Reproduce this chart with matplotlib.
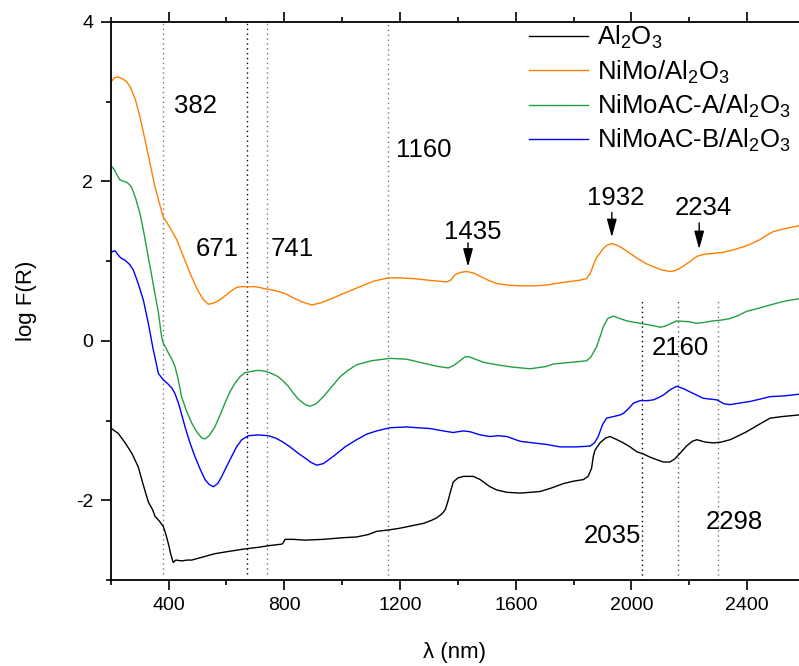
import numpy as np
import matplotlib
matplotlib.use("Agg")
import matplotlib.pyplot as plt
from matplotlib.ticker import MultipleLocator

plt.rcParams['font.family'] = ['Liberation Sans', 'DejaVu Sans']
plt.rcParams['mathtext.fontset'] = 'custom'
plt.rcParams['mathtext.rm'] = 'Liberation Sans'
plt.rcParams['mathtext.it'] = 'Liberation Sans'
plt.rcParams['axes.unicode_minus'] = False

# DRS spectra, log F(R) vs wavelength (nm)
wl_al2o3 = [200, 210, 226, 250, 273, 295, 312, 330, 345, 353, 368, 382, 390, 399, 408, 416,
            425, 445, 465, 480, 520, 560, 610, 664, 710, 745, 791, 795, 803, 830, 872, 935,
            1000, 1050, 1090, 1119, 1165, 1200, 1240, 1281, 1310, 1327, 1345, 1356, 1365,
            1373, 1384, 1400, 1419, 1453, 1477, 1511, 1534, 1570, 1615, 1650, 1684, 1720,
            1765, 1800, 1834, 1850, 1862, 1868, 1874, 1891, 1910, 1926, 1950, 1972, 1995,
            2018, 2041, 2065, 2087, 2110, 2133, 2150, 2168, 2190, 2210, 2226, 2255, 2283,
            2310, 2341, 2370, 2398, 2440, 2479, 2520, 2577, 2600]
f_al2o3 = [-1.09, -1.12, -1.16, -1.28, -1.41, -1.58, -1.80, -2.02, -2.12, -2.20, -2.26, -2.33,
           -2.42, -2.54, -2.68, -2.78, -2.75, -2.76, -2.75, -2.75, -2.71, -2.67, -2.64, -2.61,
           -2.59, -2.57, -2.55, -2.54, -2.49, -2.49, -2.50, -2.49, -2.47, -2.46, -2.43, -2.39,
           -2.37, -2.35, -2.32, -2.29, -2.25, -2.22, -2.17, -2.12, -2.02, -1.91, -1.77, -1.72,
           -1.70, -1.70, -1.74, -1.83, -1.87, -1.90, -1.91, -1.90, -1.89, -1.85, -1.79, -1.76,
           -1.74, -1.70, -1.60, -1.45, -1.37, -1.28, -1.22, -1.20, -1.24, -1.28, -1.33, -1.39,
           -1.42, -1.46, -1.49, -1.52, -1.52, -1.48, -1.41, -1.32, -1.26, -1.24, -1.27, -1.28,
           -1.27, -1.24, -1.19, -1.14, -1.05, -0.97, -0.95, -0.93, -0.92]

wl_nimo = [200, 212, 225, 240, 255, 267, 285, 301, 315, 330, 353, 381, 405, 428, 450, 474, 500,
           520, 537, 552, 566, 583, 601, 618, 635, 650, 670, 700, 739, 770, 797, 815, 831, 860,
           895, 930, 970, 1015, 1062, 1110, 1160, 1200, 1250, 1300, 1361, 1375, 1390, 1410,
           1431, 1455, 1477, 1505, 1534, 1570, 1615, 1660, 1707, 1740, 1776, 1820, 1845, 1858,
           1868, 1880, 1891, 1903, 1915, 1932, 1950, 1970, 1990, 2018, 2050, 2076, 2105, 2133,
           2150, 2162, 2180, 2200, 2226, 2245, 2260, 2290, 2318, 2350, 2387, 2415, 2444, 2470,
           2490, 2520, 2560, 2600]
f_nimo = [3.24, 3.30, 3.31, 3.29, 3.25, 3.19, 3.03, 2.81, 2.58, 2.33, 1.93, 1.56, 1.42, 1.27,
          1.07, 0.85, 0.64, 0.52, 0.46, 0.47, 0.49, 0.53, 0.58, 0.63, 0.67, 0.68, 0.68, 0.68,
          0.65, 0.63, 0.60, 0.57, 0.54, 0.49, 0.45, 0.48, 0.54, 0.61, 0.68, 0.75, 0.79, 0.79,
          0.78, 0.76, 0.74, 0.76, 0.83, 0.86, 0.87, 0.85, 0.81, 0.76, 0.72, 0.70, 0.69, 0.69,
          0.70, 0.72, 0.74, 0.76, 0.78, 0.85, 0.95, 1.05, 1.10, 1.16, 1.20, 1.22, 1.20, 1.16,
          1.11, 1.04, 0.97, 0.93, 0.89, 0.87, 0.88, 0.90, 0.94, 0.99, 1.06, 1.08, 1.09, 1.10,
          1.11, 1.14, 1.18, 1.22, 1.27, 1.33, 1.37, 1.40, 1.43, 1.46]

wl_ac_a = [200, 206, 212, 222, 232, 245, 255, 265, 273, 287, 301, 315, 330, 345, 365, 376, 382,
           390, 399, 410, 422, 433, 445, 462, 480, 497, 515, 526, 540, 560, 577, 595, 612, 630,
           647, 664, 690, 710, 733, 757, 779, 795, 814, 830, 848, 872, 889, 910, 935, 963, 993,
           1020, 1050, 1100, 1165, 1223, 1281, 1330, 1367, 1385, 1400, 1425, 1440, 1460, 1490,
           1534, 1590, 1649, 1690, 1707, 1730, 1790, 1845, 1860, 1880, 1893, 1903, 1918, 1937,
           1960, 1984, 2030, 2060, 2076, 2100, 2120, 2156, 2200, 2225, 2248, 2280, 2310, 2341,
           2370, 2398, 2440, 2479, 2520, 2548, 2600]
f_ac_a = [2.15, 2.18, 2.15, 2.08, 2.02, 2.00, 1.99, 1.96, 1.92, 1.78, 1.60, 1.35, 1.05, 0.75,
          0.35, 0.05, -0.03, -0.08, -0.15, -0.22, -0.32, -0.48, -0.70, -0.88, -1.03, -1.14,
          -1.22, -1.23, -1.19, -1.08, -0.94, -0.78, -0.64, -0.53, -0.45, -0.40, -0.38, -0.37,
          -0.38, -0.41, -0.45, -0.50, -0.57, -0.65, -0.73, -0.80, -0.82, -0.79, -0.70, -0.58,
          -0.45, -0.37, -0.30, -0.25, -0.22, -0.23, -0.28, -0.32, -0.34, -0.31, -0.27, -0.20,
          -0.20, -0.23, -0.27, -0.30, -0.33, -0.35, -0.33, -0.32, -0.29, -0.27, -0.25, -0.20,
          -0.07, 0.07, 0.18, 0.28, 0.31, 0.28, 0.25, 0.22, 0.20, 0.19, 0.17, 0.19, 0.25, 0.24,
          0.22, 0.23, 0.25, 0.26, 0.28, 0.32, 0.37, 0.41, 0.45, 0.49, 0.51, 0.54]

wl_ac_b = [200, 206, 215, 225, 235, 250, 265, 278, 295, 313, 330, 347, 365, 382, 395, 411, 422,
           434, 445, 457, 474, 491, 508, 526, 540, 555, 570, 584, 600, 618, 635, 653, 676, 710,
           745, 770, 791, 820, 848, 872, 890, 912, 935, 969, 1010, 1050, 1085, 1119, 1165, 1223,
           1260, 1304, 1350, 1384, 1400, 1419, 1442, 1477, 1511, 1540, 1569, 1615, 1660, 1707,
           1753, 1810, 1857, 1872, 1885, 1900, 1914, 1937, 1960, 1972, 1990, 2007, 2030, 2055,
           2076, 2095, 2110, 2135, 2156, 2180, 2202, 2225, 2248, 2270, 2295, 2320, 2341, 2375,
           2410, 2445, 2479, 2530, 2600]
f_ac_b = [1.10, 1.12, 1.13, 1.08, 1.04, 1.01, 0.96, 0.89, 0.72, 0.51, 0.22, -0.11, -0.41,
          -0.49, -0.53, -0.59, -0.66, -0.78, -0.92, -1.08, -1.28, -1.45, -1.60, -1.74, -1.80,
          -1.83, -1.79, -1.70, -1.58, -1.45, -1.33, -1.24, -1.19, -1.18, -1.19, -1.22, -1.26,
          -1.33, -1.41, -1.47, -1.52, -1.56, -1.54, -1.45, -1.33, -1.24, -1.17, -1.13, -1.09,
          -1.08, -1.09, -1.10, -1.13, -1.15, -1.14, -1.13, -1.14, -1.18, -1.20, -1.19, -1.20,
          -1.26, -1.28, -1.30, -1.33, -1.33, -1.32, -1.28, -1.20, -1.05, -0.97, -0.95, -0.93,
          -0.91, -0.85, -0.78, -0.75, -0.75, -0.74, -0.71, -0.68, -0.61, -0.57, -0.60, -0.64,
          -0.68, -0.72, -0.73, -0.74, -0.79, -0.80, -0.78, -0.76, -0.73, -0.70, -0.69, -0.66]

# marker lines: (wavelength, lower end, upper end, colour)
ref_lines = [(382, -2.92, 4.0, '#777777'), (671, -2.92, 4.0, 'black'), (741, -2.92, 4.0, '#777777'),
             (1160, -3.0, 4.0, '#777777'), (2035, -3.0, 0.54, 'black'),
             (2160, -3.0, 0.50, '#555555'), (2298, -3.0, 0.51, '#777777')]

# plain band labels: (text, x, y)
band_labels = [('382', 493, 2.94), ('671', 568, 1.15), ('741', 827, 1.15), ('1160', 1283, 2.40),
               ('2160', 2168, -0.09), ('2035', 1934, -2.45), ('2298', 2354, -2.27)]

# arrowed labels on the NiMo curve: (text, wavelength, arrow tip, arrow tail, text y)
arrow_labels = [('1435', 1435, 0.93, 1.23, 1.37), ('1932', 1932, 1.30, 1.61, 1.79),
                ('2234', 2234, 1.15, 1.48, 1.67)]

fig = plt.figure(figsize=(7.99, 6.66), dpi=100)
ax = fig.add_axes([110.7 / 799, 86 / 666, 1 - 110.7 / 799, 558 / 666])

for wl, lo, hi, c in ref_lines:
    ax.plot([wl, wl], [lo, hi], linestyle=(0, (1, 2.5)), color=c, lw=1.0, zorder=1)

ax.plot(wl_al2o3, f_al2o3, color='black', lw=1.0, label=r'Al$_2$O$_3$')
ax.plot(wl_nimo, f_nimo, color='#FF7F00', lw=1.0, label=r'NiMo/Al$_2$O$_3$')
ax.plot(wl_ac_a, f_ac_a, color='#22A040', lw=1.0, label=r'NiMoAC-A/Al$_2$O$_3$')
ax.plot(wl_ac_b, f_ac_b, color='#0000FF', lw=1.0, label=r'NiMoAC-B/Al$_2$O$_3$')

for txt, x, y in band_labels:
    ax.text(x, y, txt, fontsize=18.5, ha='center', va='center')

for txt, x, tip, tail, ty in arrow_labels:
    ax.annotate('', xy=(x, tip), xytext=(x, tail),
                arrowprops=dict(arrowstyle='-|>,head_length=0.55,head_width=0.15',
                                color='black', lw=1.0, mutation_scale=20,
                                shrinkA=0, shrinkB=0))
    ax.text(x + 15, ty, txt, fontsize=18.5, ha='center', va='center')

ax.set_xlim(200, 2579)
ax.set_ylim(-3, 4)
ax.xaxis.set_major_locator(MultipleLocator(400))
ax.xaxis.set_minor_locator(MultipleLocator(200))
ax.yaxis.set_major_locator(MultipleLocator(2))
ax.yaxis.set_minor_locator(MultipleLocator(1))
ax.tick_params(which='both', direction='out', top=True, right=False, width=1.2,
               labelsize=14, pad=5)
ax.tick_params(which='major', length=7.5)
ax.tick_params(which='minor', length=3.8)
ax.spines['right'].set_visible(False)
for s in ['left', 'bottom', 'top']:
    ax.spines[s].set_linewidth(1.3)

ax.set_xlabel('λ (nm)', fontsize=16, labelpad=20)
ax.set_ylabel('log F(R)', fontsize=16, labelpad=28)

ax.legend(loc='upper left', bbox_to_anchor=(529 / 799, 1 - 24 / 666),
          bbox_transform=fig.transFigure, frameon=False, fontsize=18.5,
          handlelength=2.3, handletextpad=0.35, labelspacing=0.28,
          borderpad=0, borderaxespad=0)

fig.savefig('out.png', dpi=100)
